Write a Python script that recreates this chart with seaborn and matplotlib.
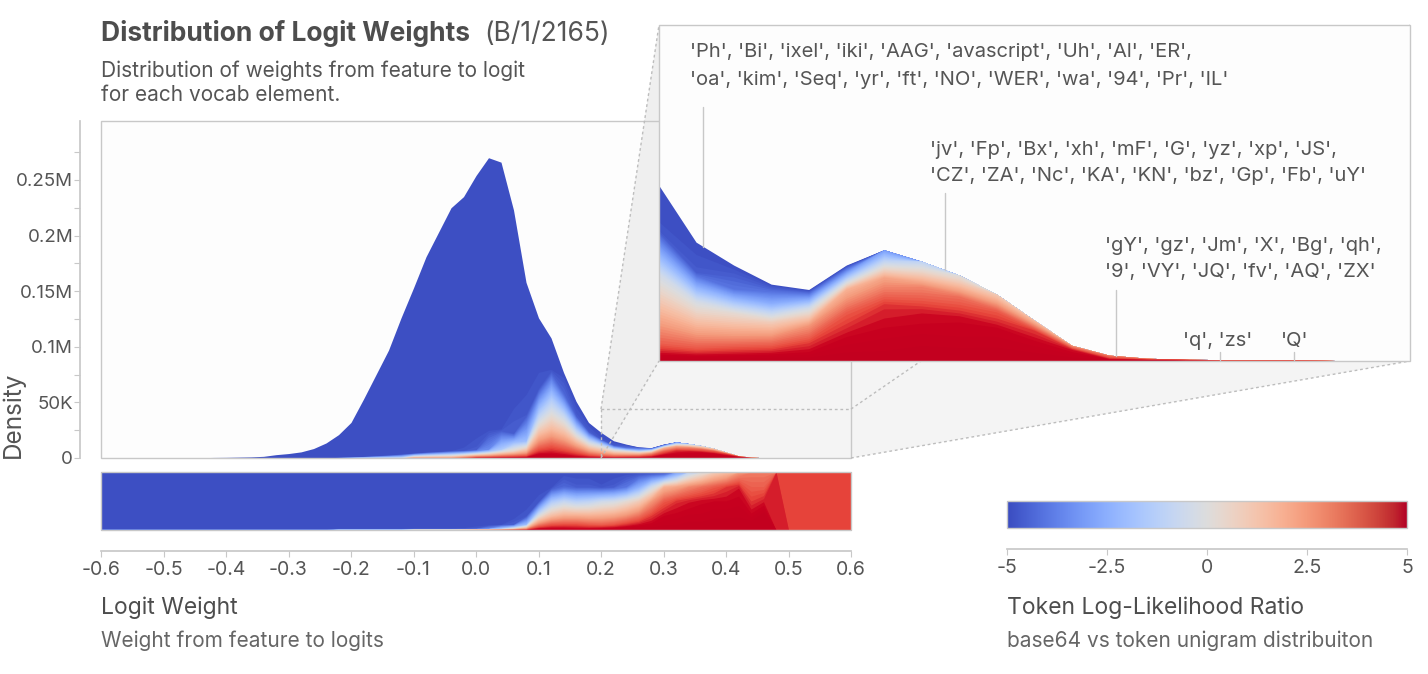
import numpy as np
import pandas as pd
import matplotlib
matplotlib.use("Agg")
import matplotlib.pyplot as plt
import seaborn as sns
from matplotlib.patches import Polygon, Rectangle
from matplotlib.colors import Normalize, LinearSegmentedColormap
from matplotlib.ticker import FixedLocator

# ---------------- data ----------------
logit_bins = np.linspace(-0.6, 0.6, 61)          # bin centres of logit weight
density_k = [0, 0, 0, 0, 0, 0, 0, 0, 0.3, 0.5,
             0.6, 0.8, 1.0, 1.5, 3.0, 4.0, 5.5, 8.5, 13.5, 21,
             32, 53, 75, 97, 126, 153, 181, 203, 225, 235,
             254, 270, 266, 223, 158, 126, 108, 77, 51, 32,
             23, 15.5, 12.5, 10, 9.3, 12.5, 14.5, 13.0, 11.2, 8.7,
             5.3, 2.0, 0.7, 0.3, 0.15, 0.12, 0.12, 0.1, 0, 0, 0]

# LLR quantiles per bin (fraction of tokens with LLR <= value)
quantile_levels = [0.0, 0.25, 0.5, 0.75, 0.9, 0.97, 1.0]
llr_q000 = [-5]*46 + [-3, -1, 0, 1, 1.5, 2.5, 3, 3, 4.3] + [3.9]*6
llr_q025 = [-5]*37 + [-4.3, -4.6, -4.6, -4.8, -4.6, -4.0, -2.5, -0.5, 1.8, 2.2, 2.8, 3.2,
                      3.6, 4.0, 4.3, 3.5, 3.5, 4.3] + [3.9]*6
llr_q050 = [-5]*35 + [-4.7, -1.5, -0.8, -1.2, -1.0, -0.5, -0.3, 0.3, 1.0, 2.5, 3.6, 4.1, 4.3,
                      4.45, 4.5, 4.5, 4.6, 4.0, 4.3, 4.3] + [3.9]*6
llr_q075 = [-5]*34 + [-4.7, 0, 1.5, 2.0, 2.0, 1.9, 2.0, 2.2, 2.6, 3.2, 4.0, 4.5, 4.6, 4.7,
                      4.7, 4.8, 4.8, 4.8, 4.6, 5, 4.3] + [3.9]*6
llr_q090 = [-5]*32 + [-4.9, -4.5, -2, 3, 3.7, 3.8, 3.8, 3.6, 3.5, 3.7, 4.1, 4.4, 4.6, 4.8,
                      4.8, 4.9, 4.9, 4.9, 4.9, 5, 5, 5, 4.3] + [3.9]*6
llr_q097 = [-5]*25 + [-4.9]*4 + [-4.8, -4.6, -3.5, -1.5, 0.5, 2.5, 4.5, 4.6, 4.6, 4.5, 4.5,
                                 4.6, 4.7, 4.8, 4.9, 4.9] + [5]*9 + [4.3] + [3.9]*6
llr_q100 = [-3]*19 + [0]*6 + [3]*4 + [4] + [5]*24 + [4.3] + [3.9]*6

y_tick_values = [0, 50, 100, 150, 200, 250]
y_tick_labels = ["0", "50K", "0.1M", "0.15M", "0.2M", "0.25M"]
y_minor_values = [25, 75, 125, 175, 225, 275]
x_tick_values = [-0.6, -0.5, -0.4, -0.3, -0.2, -0.1, 0.0, 0.1, 0.2, 0.3, 0.4, 0.5, 0.6]
x_tick_labels = ["-0.6", "-0.5", "-0.4", "-0.3", "-0.2", "-0.1", "0.0", "0.1", "0.2",
                 "0.3", "0.4", "0.5", "0.6"]
cb_tick_values = [-5, -2.5, 0, 2.5, 5]
cb_tick_labels = ["-5", "-2.5", "0", "2.5", "5"]

zoom_x = [0.2, 0.6]
zoom_y = [0, 44]

ann_x = [0.2234, 0.3523, 0.4434, 0.4988, 0.538]
ann_lines = [
    ["'Ph', 'Bi', 'ixel', 'iki', 'AAG', 'avascript', 'Uh', 'Al', 'ER',",
     "'oa', 'kim', 'Seq', 'yr', 'ft', 'NO', 'WER', 'wa', '94', 'Pr', 'IL'"],
    ["'jv', 'Fp', 'Bx', 'xh', 'mF', 'G', 'yz', 'xp', 'JS',",
     "'CZ', 'ZA', 'Nc', 'KA', 'KN', 'bz', 'Gp', 'Fb', 'uY'"],
    ["'gY', 'gz', 'Jm', 'X', 'Bg', 'qh',",
     "'9', 'VY', 'JQ', 'fv', 'AQ', 'ZX'"],
    ["'q', 'zs'"],
    ["'Q'"],
]

# ---------------- style ----------------
sns.set_theme(style="white")
plt.rcParams['font.family'] = ['Inter', 'DejaVu Sans']
cmap = sns.color_palette("coolwarm", as_cmap=True)
norm = Normalize(-5, 5)
# data colours: coolwarm on the blue side, more saturated reds on the high end
_pos = list(np.linspace(0, 0.75, 16))
data_cmap = LinearSegmentedColormap.from_list(
    "data_cw", [(p, cmap(p)) for p in _pos] + [(0.89, "#e8483c"), (0.95, "#c8001f"), (1.0, "#c2001f")])

W, H = 1428, 674
fig = plt.figure(figsize=(W / 100, H / 100), dpi=100)
fig.patch.set_facecolor("white")
GRID = "#c8c8c8"
TXT = "#555555"


def axpos(l, t, r, b):
    return [l / W, 1 - b / H, (r - l) / W, (b - t) / H]


def ftext(px, py, s, **kw):
    return fig.text(px / W, 1 - py / H, s, **kw)


# cumulative LLR distribution per bin
Q = np.array([llr_q000, llr_q025, llr_q050, llr_q075, llr_q090, llr_q097, llr_q100], float).T
edges = np.linspace(-5, 5, 61)
F = np.zeros((len(logit_bins), len(edges)))
for i in range(len(logit_bins)):
    q = Q[i] + np.arange(Q.shape[1]) * 1e-6
    F[i] = np.interp(edges, q, quantile_levels)
F[:, 0] = 0.0
F[:, -1] = 1.0
slice_colors = [data_cmap(norm(0.5 * (edges[j] + edges[j + 1]))) for j in range(len(edges) - 1)]


def draw_stack(ax, dens):
    dens = np.asarray(dens, float)
    for j, c in enumerate(slice_colors):
        top = dens * (1 - F[:, j])
        ax.fill_between(logit_bins, 0, top, color=c, lw=0, zorder=1)


def frame(ax):
    ax.add_patch(Rectangle((0, 0), 1, 1, transform=ax.transAxes, fill=False,
                           ec=GRID, lw=1, zorder=5, clip_on=False))


TICK_FS = 14
TICK_LEN = 4.5

# ---------------- main axes ----------------
ax = fig.add_axes(axpos(101, 121, 851, 458))
ax.set_facecolor("#fdfdfd")
draw_stack(ax, density_k)
ax.set_xlim(-0.6, 0.6)
ax.set_ylim(0, 303)
for s in ["top", "right", "bottom"]:
    ax.spines[s].set_visible(False)
ax.spines["left"].set_position(("outward", 15))
ax.spines["left"].set_color(GRID)
ax.set_xticks([])
ax.set_yticks(y_tick_values)
ax.set_yticklabels(y_tick_labels)
ax.yaxis.set_minor_locator(FixedLocator(y_minor_values))
ax.tick_params(axis="y", which="both", left=True, color=GRID, length=TICK_LEN, width=0.8,
               labelsize=13.5, labelcolor=TXT, pad=0.5)
frame(ax)

# ---------------- proportion strip ----------------
ax_s = fig.add_axes(axpos(101, 472, 851, 530))
draw_stack(ax_s, np.ones(len(logit_bins)))
ax_s.set_xlim(-0.6, 0.6)
ax_s.set_ylim(0, 1)
for s in ["top", "right", "left"]:
    ax_s.spines[s].set_visible(False)
ax_s.spines["bottom"].set_position(("outward", 15))
ax_s.spines["bottom"].set_color(GRID)
ax_s.set_yticks([])
ax_s.set_xticks(x_tick_values)
ax_s.set_xticklabels(x_tick_labels)
ax_s.tick_params(axis="x", bottom=True, color=GRID, length=TICK_LEN, width=0.8,
                 labelsize=TICK_FS, labelcolor=TXT, pad=2.5)
frame(ax_s)

# ---------------- colour bar ----------------
ax_c = fig.add_axes(axpos(1007, 501, 1407, 528))
ax_c.imshow(np.linspace(-5, 5, 512)[None, :], extent=[-5, 5, 0, 1], aspect="auto",
            cmap=cmap, norm=norm)
for s in ["top", "right", "left"]:
    ax_c.spines[s].set_visible(False)
ax_c.spines["bottom"].set_position(("outward", 15))
ax_c.spines["bottom"].set_color(GRID)
ax_c.set_yticks([])
ax_c.set_xticks(cb_tick_values)
ax_c.set_xticklabels(cb_tick_labels)
ax_c.tick_params(axis="x", bottom=True, color=GRID, length=TICK_LEN, width=0.8,
                 labelsize=TICK_FS, labelcolor=TXT, pad=2.5)
frame(ax_c)

# ---------------- inset ----------------
ax_in = fig.add_axes(axpos(659, 25, 1410, 361))
ax_in.set_facecolor("#fdfdfd")
draw_stack(ax_in, density_k)
ax_in.set_xlim(*zoom_x)
ax_in.set_ylim(*zoom_y)
ax_in.set_xticks([])
ax_in.set_yticks([])
for s in ax_in.spines.values():
    s.set_visible(False)
frame(ax_in)

ann_text_pos = [(690, [52, 80]), (930, [150, 176]), (1105, [246, 272]), (1183, [341]), (1281, [341])]
ann_line_top = [107, 193, 290, 352, 352]
for xv, lines, (tx, tys), ltop in zip(ann_x, ann_lines, ann_text_pos, ann_line_top):
    ybot = np.interp(xv, logit_bins, density_k)
    ytop = (361 - ltop) / 336 * zoom_y[1]
    ax_in.plot([xv, xv], [ybot, ytop], color=GRID, lw=1, zorder=3)
    for line, ty in zip(lines, tys):
        ftext(tx, ty, line, fontsize=14.5, color=TXT, va="center", ha="left", zorder=10)

# ---------------- zoom connector ----------------
inv = fig.transFigure.inverted()


def dfig(a, x, y):
    return inv.transform(a.transData.transform((x, y)))


def afig(a, x, y):
    return inv.transform(a.transAxes.transform((x, y)))


rTL = dfig(ax, zoom_x[0], zoom_y[1]); rBL = dfig(ax, zoom_x[0], zoom_y[0])
rBR = dfig(ax, zoom_x[1], zoom_y[0]); rTR = dfig(ax, zoom_x[1], zoom_y[1])
iTL = afig(ax_in, 0, 1); iBL = afig(ax_in, 0, 0); iBR = afig(ax_in, 1, 0); iTR = afig(ax_in, 1, 1)

ax.add_patch(Polygon([rTL, iTL, iTR, iBR, rBR, rBL], closed=True, transform=fig.transFigure,
                     fc="#f4f4f4", lw=0, zorder=0.5, clip_on=False))
ax.add_patch(Polygon([rTL, iTL, iBL, rBL], closed=True, transform=fig.transFigure,
                     fc="#efefef", lw=0, zorder=0.6, clip_on=False))
for p, q in [(rTL, iTL), (rBL, iBL), (rTR, iTR), (rBR, iBR), (rTL, rTR), (rTL, rBL)]:
    ax.plot([p[0], q[0]], [p[1], q[1]], transform=fig.transFigure, color="#bdbdbd", lw=1,
            ls=(0, (2, 2)), zorder=6, clip_on=False)

# ---------------- texts ----------------
t = ftext(101, 41, "Distribution of Logit Weights", fontsize=19, fontweight="bold",
          color="#4d4d4d", va="baseline")
r = fig.canvas.get_renderer()
x_end = t.get_window_extent(renderer=r).x1
ftext(max(484, x_end + 14), 41, "(B/1/2165)", fontsize=19, color=TXT, va="baseline")
ftext(101, 77, "Distribution of weights from feature to logit", fontsize=15, color=TXT, va="baseline")
ftext(101, 101, "for each vocab element.", fontsize=15, color=TXT, va="baseline")

ftext(13, 458, "Density", rotation=90, ha="center", va="bottom", fontsize=17.5, color=TXT)

ftext(101, 608, "Logit Weight", fontsize=16.5, color="#4d4d4d", va="center")
ftext(101, 641, "Weight from feature to logits", fontsize=15, color="#666666", va="center")
ftext(1007, 608, "Token Log-Likelihood Ratio", fontsize=16.5, color="#4d4d4d", va="center")
ftext(1007, 641, "base64 vs token unigram distribuiton", fontsize=15, color="#666666", va="center")

fig.savefig("out.png", dpi=100)
